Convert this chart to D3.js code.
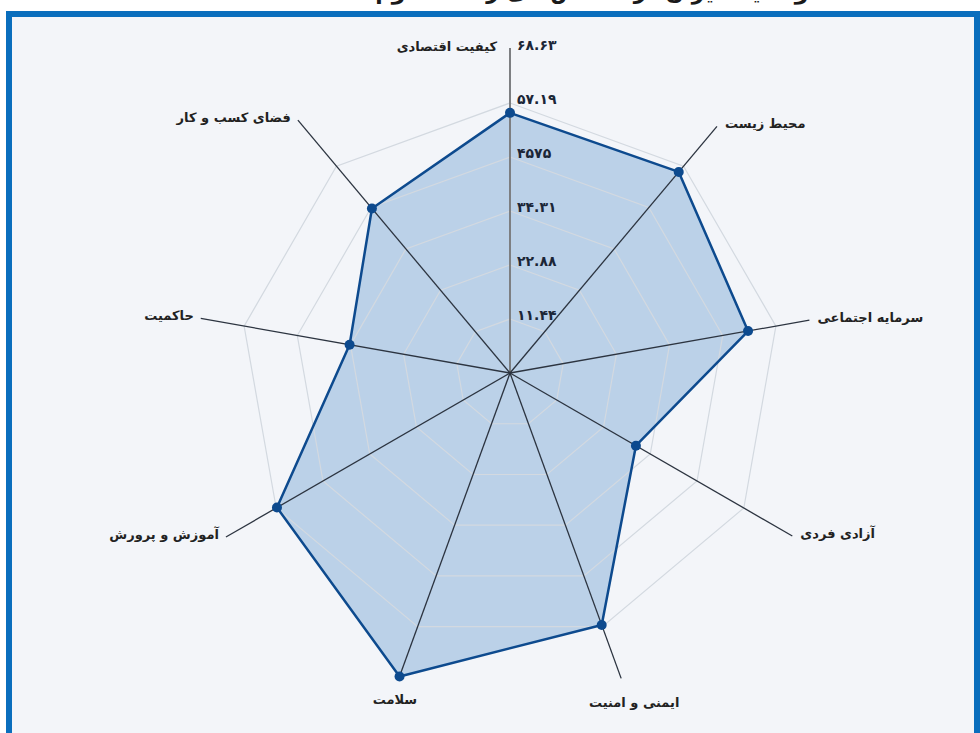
<!DOCTYPE html>
<html>
  <head>
    <meta charset="utf-8">
    <title>Radar</title>
    <script src="https://d3js.org/d3.v7.min.js"></script>
    <style>
      body { margin: 0; background: #fff; font-family: "DejaVu Sans", sans-serif; }
      svg { display: block; }
    </style>
  </head>
  <body>
    <div id="chart"></div>
    <script>
      // data
      var categories = ["کیفیت اقتصادی", "محیط زیست", "سرمایه اجتماعی", "آزادی فردی", "ایمنی و امنیت",
                        "سلامت", "آموزش و پرورش", "حاکمیت", "فضای کسب و کار"];
      var values = [55.1, 55.6, 51.2, 30.8, 56.8, 68.4, 57.0, 34.5, 45.5];
      var tickValues = [11.44, 22.88, 34.31, 45.75, 57.19, 68.63];
      var tickLabels = ["۱۱.۴۴", "۲۲.۸۸", "۳۴.۳۱", "۴۵۷۵", "۵۷.۱۹", "۶۸.۶۳"];
      var title = "وضعیت ایران در شاخص‌های رفاه لگاتوم";

      // layout
      var width = 980, height = 733;
      var cx = 510, cy = 373;
      var spokeLen = [325, 322, 304, 326, 325, 322, 328, 314, 330];
      var navy = "#0d4a8e";

      var svg = d3.select("#chart").append("svg")
        .attr("width", width)
        .attr("height", height);

      // cut off title at the very top
      svg.append("text")
        .attr("x", 592)
        .attr("y", -1)
        .attr("text-anchor", "middle")
        .style("font-size", "22px")
        .style("font-weight", "bold")
        .style("fill", "#1a1a1a")
        .text(title);

      // frame
      svg.append("rect")
        .attr("x", 9).attr("y", 14)
        .attr("width", 968).attr("height", 740)
        .style("fill", "#f3f5f9")
        .style("stroke", "#0a6ebd")
        .style("stroke-width", 6);

      var r = d3.scaleLinear()
        .domain([0, d3.max(tickValues)])
        .range([0, 324]);
      var angle = d3.scaleLinear()
        .domain([0, categories.length])
        .range([0, 2 * Math.PI]);

      function pt(i, rad) {
        var a = angle(i);
        return [cx + rad * Math.sin(a), cy - rad * Math.cos(a)];
      }

      // data polygon
      var pts = values.map(function(v, i) { return pt(i, r(v)); });
      svg.append("path")
        .attr("d", d3.line()(pts) + "Z")
        .style("fill", "#b7cfe7")
        .style("fill-opacity", 0.95)
        .style("stroke", "none");

      // grid rings (drawn over the fill, light)
      svg.selectAll(".ring")
          .data(tickValues.slice(0, 5))
        .enter().append("path")
          .attr("class", "ring")
          .attr("d", function(t) {
            return d3.line()(categories.map(function(c, i) { return pt(i, r(t)); })) + "Z";
          })
          .style("fill", "none")
          .style("stroke", "#d3d9e0")
          .style("stroke-width", 1.2);

      // spokes
      svg.selectAll(".spoke")
          .data(categories)
        .enter().append("line")
          .attr("class", "spoke")
          .attr("x1", cx).attr("y1", cy)
          .attr("x2", function(d, i) { return pt(i, spokeLen[i])[0]; })
          .attr("y2", function(d, i) { return pt(i, spokeLen[i])[1]; })
          .style("stroke", function(d, i) { return i === 0 ? "#7d7f82" : "#2c3440"; })
          .style("stroke-width", function(d, i) { return i === 0 ? 2 : 1.3; });

      // polygon outline + points
      svg.append("path")
        .attr("d", d3.line()(pts) + "Z")
        .style("fill", "none")
        .style("stroke", navy)
        .style("stroke-width", 2.5)
        .style("stroke-linejoin", "round");
      svg.selectAll(".dot")
          .data(pts)
        .enter().append("circle")
          .attr("class", "dot")
          .attr("cx", function(d) { return d[0]; })
          .attr("cy", function(d) { return d[1]; })
          .attr("r", 5)
          .style("fill", navy);

      // tick labels on the top axis
      svg.selectAll(".tick")
          .data(tickValues)
        .enter().append("text")
          .attr("class", "tick")
          .attr("x", cx + 7)
          .attr("y", function(t) { return cy - r(t) - 4; })
          .attr("dy", "0.35em")
          .style("font-size", "14px")
          .style("font-weight", "bold")
          .style("fill", "#1b2637")
          .text(function(t, i) { return tickLabels[i]; });

      // category labels
      svg.selectAll(".cat")
          .data(categories)
        .enter().append("text")
          .attr("class", "cat")
          .attr("x", function(d, i) {
            var e = pt(i, spokeLen[i]);
            if (i === 0) return cx - 13;
            if (i === 4) return e[0] + 13;
            if (i === 5) return e[0] - 5;
            return e[0] + (e[0] > cx ? 8 : -7);
          })
          .attr("y", function(d, i) {
            var e = pt(i, spokeLen[i]);
            if (i === 0) return e[1] - 2;
            if (i === 4 || i === 5) return e[1] + 24;
            return e[1] - 3;
          })
          .attr("dy", "0.35em")
          .attr("text-anchor", function(d, i) {
            if (i === 0) return "end";
            if (i === 4 || i === 5) return "middle";
            return pt(i, spokeLen[i])[0] > cx ? "start" : "end";
          })
          .style("font-size", "13px")
          .style("font-weight", "bold")
          .style("fill", "#222")
          .text(function(d) { return d; });
    </script>
  </body>
</html>
